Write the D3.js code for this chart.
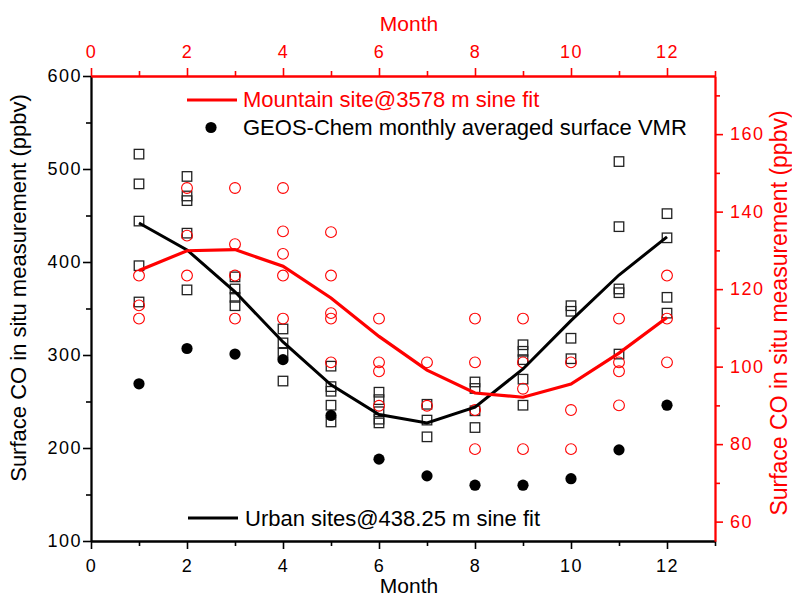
<!DOCTYPE html>
<html>
<head>
<meta charset="utf-8">
<script src="https://cdn.jsdelivr.net/npm/d3@7"></script>
<style>
  body { margin: 0; background: #fff; }
  svg { font-family: "Liberation Sans", Arial, sans-serif; }
  .tick text { font-size: 18px; letter-spacing: 1.5px; }
</style>
</head>
<body>
<div id="chart"></div>
<script>
const months = [1, 2, 3, 4, 5, 6, 7, 8, 9, 10, 11, 12];

// urban in situ measurements (left axis, ppbv), one list per month
const urbanObs = [
  [516, 484, 444, 396, 357],
  [492, 471, 466, 431, 370],
  [384, 371, 362, 353],
  [328, 313, 302, 272],
  [288, 266, 261, 246, 228],
  [260, 252, 239, 231, 227],
  [247, 230, 212],
  [271, 264, 240, 222],
  [311, 304, 295, 274, 246],
  [353, 347, 318, 296],
  [508, 438, 371, 367, 301],
  [452, 426, 362, 345]
];

// mountain in situ measurements (right axis, ppbv)
const mountainObs = [
  [123.5, 115.8, 112.4],
  [146.1, 133.8, 123.5],
  [146.1, 131.6, 123.5, 112.4],
  [146.1, 134.9, 129.1, 123.5, 112.4],
  [134.7, 123.5, 113.8, 112.4, 101.1],
  [112.4, 101.1, 98.8, 89.9],
  [101.1, 89.9],
  [112.4, 101.1, 88.8, 78.7],
  [112.4, 101.1, 94.3, 78.7],
  [101.1, 88.8, 78.7],
  [112.4, 101.1, 98.8, 90.0],
  [123.5, 112.4, 101.1]
];

const geosChem = [269, 307, 301, 295, 235, 188, 170, 160, 160, 167, 198, 246];
const urbanFit = [442, 413, 368, 314, 268, 236, 227, 244, 285, 337, 386, 427];
const mountainFit = [124.8, 129.9, 130.2, 125.9, 117.7, 107.8, 99.1, 93.2, 92.1, 95.5, 103.5, 112.7];

const xMajor = [0, 2, 4, 6, 8, 10, 12];
const xMinor = [1, 3, 5, 7, 9, 11, 13];
const leftMajor = [100, 200, 300, 400, 500, 600];
const leftMinor = [150, 250, 350, 450, 550];
const rightMajor = [60, 80, 100, 120, 140, 160];
const rightMinor = [70, 90, 110, 130, 150, 170];

const RED = "#ff0000";

document.addEventListener("DOMContentLoaded", setup);

function setup() {
  const width = 792;
  const height = 598;
  const plot = {left: 91, right: 715, top: 76, bottom: 541};

  const svg = d3.select("#chart").append("svg")
      .attr("width", width)
      .attr("height", height);

  const x = d3.scaleLinear().domain([0, 13]).range([plot.left, plot.right]);
  const yL = d3.scaleLinear().domain([100, 600]).range([plot.bottom, plot.top]);
  const yR = d3.scaleLinear().domain([55, 175]).range([plot.bottom, plot.top]);

  renderPoints(svg, x, yL, yR);
  renderFits(svg, x, yL, yR);
  renderAxes(svg, x, yL, yR, plot);
  renderLegend(svg);
}

function flatten(obs) {
  const pts = [];
  obs.forEach((vals, i) => vals.forEach(v => pts.push({m: months[i], v: v})));
  return pts;
}

function renderPoints(svg, x, yL, yR) {
  const s = 9.5;
  svg.append("g")
      .selectAll("rect")
      .data(flatten(urbanObs))
      .enter()
      .append("rect")
      .attr("x", d => x(d.m) - s / 2)
      .attr("y", d => yL(d.v) - s / 2)
      .attr("width", s)
      .attr("height", s)
      .attr("fill", "none")
      .attr("stroke", "#222")
      .attr("stroke-width", 1.3);

  svg.append("g")
      .selectAll("circle")
      .data(flatten(mountainObs))
      .enter()
      .append("circle")
      .attr("cx", d => x(d.m))
      .attr("cy", d => yR(d.v))
      .attr("r", 5.4)
      .attr("fill", "none")
      .attr("stroke", RED)
      .attr("stroke-width", 1.1);

  svg.append("g")
      .selectAll("circle")
      .data(geosChem)
      .enter()
      .append("circle")
      .attr("cx", (d, i) => x(months[i]))
      .attr("cy", d => yL(d))
      .attr("r", 5.6)
      .attr("fill", "#000");
}

function renderFits(svg, x, yL, yR) {
  const lineL = d3.line().x((d, i) => x(months[i])).y(d => yL(d));
  const lineR = d3.line().x((d, i) => x(months[i])).y(d => yR(d));
  svg.append("path")
      .attr("d", lineL(urbanFit))
      .attr("fill", "none")
      .attr("stroke", "#000")
      .attr("stroke-width", 3);
  svg.append("path")
      .attr("d", lineR(mountainFit))
      .attr("fill", "none")
      .attr("stroke", RED)
      .attr("stroke-width", 3.2);
}

function styleAxis(g, color) {
  g.selectAll("path").attr("stroke", color).attr("stroke-width", 1.8);
  g.selectAll("line").attr("stroke", color).attr("stroke-width", 1.6);
  g.selectAll("text").attr("fill", color);
}

function renderAxes(svg, x, yL, yR, plot) {
  // bottom
  svg.append("g")
      .attr("transform", `translate(0,${plot.bottom})`)
      .call(d3.axisBottom(x).tickValues(xMinor).tickFormat("").tickSize(5).tickSizeOuter(0))
      .call(g => styleAxis(g, "#000"));
  svg.append("g")
      .attr("transform", `translate(0,${plot.bottom})`)
      .call(d3.axisBottom(x).tickValues(xMajor).tickSize(8).tickPadding(10).tickSizeOuter(0))
      .call(g => styleAxis(g, "#000"));

  // left
  svg.append("g")
      .attr("transform", `translate(${plot.left},0)`)
      .call(d3.axisLeft(yL).tickValues(leftMinor).tickFormat("").tickSize(5).tickSizeOuter(0))
      .call(g => styleAxis(g, "#000"));
  svg.append("g")
      .attr("transform", `translate(${plot.left},0)`)
      .call(d3.axisLeft(yL).tickValues(leftMajor).tickSize(8).tickPadding(1).tickSizeOuter(0))
      .call(g => styleAxis(g, "#000"));

  // top (red)
  svg.append("g")
      .attr("transform", `translate(0,${plot.top})`)
      .call(d3.axisTop(x).tickValues(xMinor).tickFormat("").tickSize(5).tickSizeOuter(0))
      .call(g => styleAxis(g, RED));
  svg.append("g")
      .attr("transform", `translate(0,${plot.top})`)
      .call(d3.axisTop(x).tickValues(xMajor).tickSize(8).tickPadding(10).tickSizeOuter(0))
      .call(g => styleAxis(g, RED));

  // right (red)
  svg.append("g")
      .attr("transform", `translate(${plot.right},0)`)
      .call(d3.axisRight(yR).tickValues(rightMinor).tickSize(5).tickFormat("").tickSizeOuter(0))
      .call(g => styleAxis(g, RED));
  svg.append("g")
      .attr("transform", `translate(${plot.right},0)`)
      .call(d3.axisRight(yR).tickValues(rightMajor).tickSize(8).tickPadding(7).tickSizeOuter(0))
      .call(g => styleAxis(g, RED));

  // titles
  svg.append("text")
      .attr("x", 409).attr("y", 593)
      .attr("text-anchor", "middle")
      .attr("font-size", 21)
      .text("Month");
  svg.append("text")
      .attr("x", 409).attr("y", 31)
      .attr("text-anchor", "middle")
      .attr("font-size", 21)
      .attr("fill", RED)
      .text("Month");
  svg.append("text")
      .attr("transform", "translate(26,288) rotate(-90)")
      .attr("text-anchor", "middle")
      .attr("font-size", 22)
      .text("Surface CO in situ measurement (ppbv)");
  svg.append("text")
      .attr("transform", "translate(787,313) rotate(-90)")
      .attr("text-anchor", "middle")
      .attr("font-size", 23)
      .attr("fill", RED)
      .text("Surface CO in situ measurement (ppbv)");
}

function renderLegend(svg) {
  const fs = 22;
  svg.append("line")
      .attr("x1", 187).attr("x2", 237).attr("y1", 100).attr("y2", 100)
      .attr("stroke", RED).attr("stroke-width", 3.2);
  svg.append("text")
      .attr("x", 243).attr("y", 107)
      .attr("font-size", fs).attr("fill", RED)
      .text("Mountain site@3578 m sine fit");

  svg.append("circle")
      .attr("cx", 211).attr("cy", 127.5).attr("r", 5.6)
      .attr("fill", "#000");
  svg.append("text")
      .attr("x", 243).attr("y", 135)
      .attr("font-size", fs)
      .text("GEOS-Chem monthly averaged surface VMR");

  svg.append("line")
      .attr("x1", 188).attr("x2", 238).attr("y1", 518).attr("y2", 518)
      .attr("stroke", "#000").attr("stroke-width", 3);
  svg.append("text")
      .attr("x", 245).attr("y", 526)
      .attr("font-size", fs)
      .text("Urban sites@438.25 m sine fit");
}
</script>
</body>
</html>
